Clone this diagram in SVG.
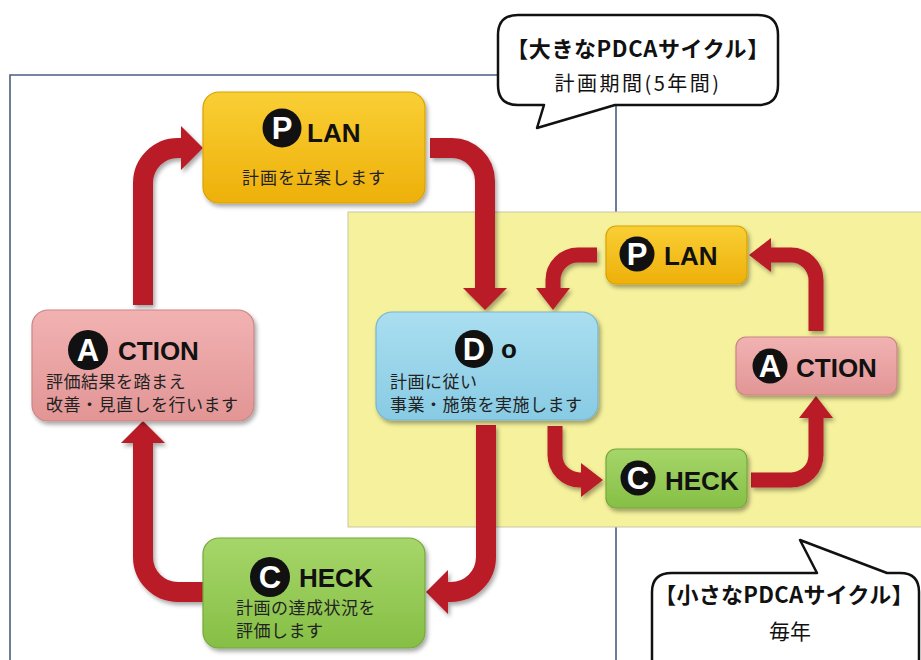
<svg xmlns="http://www.w3.org/2000/svg" width="921" height="660" viewBox="0 0 921 660">
<style>
.frame{fill:none;stroke:#4a5d80;stroke-width:1.6}
.arrowB{fill:none;stroke:#b91c27;stroke-width:20;marker-end:url(#headB)}
.arrowS{fill:none;stroke:#b91c27;stroke-width:15;marker-end:url(#headS)}
.box{stroke-width:1.2;filter:url(#sh)}
.en{font-family:"Liberation Sans",Arial,sans-serif;font-weight:bold;font-size:26px;fill:#111}
.letter{font-family:"Liberation Sans",Arial,sans-serif;font-weight:bold;font-size:31px;fill:#fff;text-anchor:middle}
.jp{font-family:"Noto Sans CJK JP",sans-serif;font-size:17px;fill:#222}
.call{fill:#fff;stroke:#111;stroke-width:2.5;stroke-linejoin:round}
.ct{font-family:"Noto Sans CJK JP",sans-serif;text-anchor:middle;fill:#111}
</style>
<defs>
<filter id="sh" filterUnits="userSpaceOnUse" x="0" y="0" width="921" height="660">
<feDropShadow dx="2" dy="3" stdDeviation="2" flood-color="#000" flood-opacity="0.35"/>
</filter>
<marker id="headB" markerUnits="userSpaceOnUse" markerWidth="22" markerHeight="44" refX="0" refY="22" orient="auto" viewBox="0 0 22 44">
<path d="M0,0 L22,22 L0,44 Z" fill="#b91c27"/>
</marker>
<marker id="headS" markerUnits="userSpaceOnUse" markerWidth="22" markerHeight="34" refX="0" refY="17" orient="auto" viewBox="0 0 22 34">
<path d="M0,0 L22,17 L0,34 Z" fill="#b91c27"/>
</marker>
<linearGradient id="gP" x1="0" y1="0" x2="0" y2="1"><stop offset="0" stop-color="#f9cf35"/><stop offset="1" stop-color="#eeb00a"/></linearGradient>
<linearGradient id="gA" x1="0" y1="0" x2="0" y2="1"><stop offset="0" stop-color="#f2b2b2"/><stop offset="1" stop-color="#e29595"/></linearGradient>
<linearGradient id="gD" x1="0" y1="0" x2="0" y2="1"><stop offset="0" stop-color="#aadef0"/><stop offset="1" stop-color="#88cbe4"/></linearGradient>
<linearGradient id="gC" x1="0" y1="0" x2="0" y2="1"><stop offset="0" stop-color="#a6d66a"/><stop offset="1" stop-color="#86bf45"/></linearGradient>
</defs>
<rect width="921" height="660" fill="#fff"/>
<g id="frame">
<path class="frame" d="M500,75 H10 V660"/>
<path class="frame" d="M616,100 V660"/>
</g>
<g id="small-cycle-area">
<rect x="348" y="212" width="600" height="315" fill="#f5f19c" stroke="#c9c7a2" stroke-width="1"/>
</g>
<g id="connectors" filter="url(#sh)">
<path class="arrowB" d="M143,305 V183 A35,35 0 0 1 178,148 H181"/>
<path class="arrowB" d="M430,148 H452 A33,33 0 0 1 485,181 V288"/>
<path class="arrowB" d="M486,425 V557 A35,35 0 0 1 451,592 H448"/>
<path class="arrowB" d="M203,592 H178 A35,35 0 0 1 143,557 V443"/>
<path class="arrowS" d="M597,255 H578 A25,25 0 0 0 553,280 V288"/>
<path class="arrowS" d="M555,426 V455 A25,25 0 0 0 580,480 H581"/>
<path class="arrowS" d="M751,480 H791 A25,25 0 0 0 816,455 V418"/>
<path class="arrowS" d="M816,331 V280 A25,25 0 0 0 791,255 H771"/>
</g>
<g id="plan">
<rect class="box" x="203" y="92" width="222" height="111" rx="16" fill="url(#gP)" stroke="#d9a300"/>
<circle cx="282" cy="128" r="19.5" fill="#111"/>
<text class="letter" x="282" y="139">P</text>
<text class="en" x="307" y="142">LAN</text>
<text class="jp" x="314" y="184" text-anchor="middle" letter-spacing="1">計画を立案します</text>
</g>
<g id="action">
<rect class="box" x="32" y="310" width="222" height="111" rx="16" fill="url(#gA)" stroke="#c98585"/>
<circle cx="88" cy="350" r="20" fill="#111"/>
<text class="letter" x="88" y="361">A</text>
<text class="en" x="118" y="360">CTION</text>
<text class="jp" x="46" y="388" letter-spacing="0.5">評価結果を踏まえ</text>
<text class="jp" x="46" y="411" letter-spacing="0.5">改善・見直しを行います</text>
</g>
<g id="do">
<rect class="box" x="376" y="312" width="222" height="108" rx="16" fill="url(#gD)" stroke="#78b6ce"/>
<circle cx="474" cy="349" r="19" fill="#111"/>
<text class="letter" x="474" y="360">D</text>
<text class="en" x="501" y="358">o</text>
<text class="jp" x="390" y="388" letter-spacing="0.5">計画に従い</text>
<text class="jp" x="390" y="411" letter-spacing="0.5">事業・施策を実施します</text>
</g>
<g id="check">
<rect class="box" x="203" y="538" width="222" height="110" rx="16" fill="url(#gC)" stroke="#75a83a"/>
<circle cx="270" cy="577" r="20" fill="#111"/>
<text class="letter" x="270" y="588">C</text>
<text class="en" x="299" y="587">HECK</text>
<text class="jp" x="236" y="614" letter-spacing="0.5">計画の達成状況を</text>
<text class="jp" x="236" y="637" letter-spacing="0.5">評価します</text>
</g>
<g id="plan-small">
<rect class="box" x="606" y="226" width="141" height="58" rx="10" fill="url(#gP)" stroke="#d9a300"/>
<circle cx="637" cy="254" r="17.5" fill="#111"/>
<text class="letter" x="637" y="265" font-size="28">P</text>
<text class="en" x="664" y="265">LAN</text>
</g>
<g id="action-small">
<rect class="box" x="736" y="337" width="161" height="58" rx="10" fill="url(#gA)" stroke="#c98585"/>
<circle cx="770" cy="366" r="17.5" fill="#111"/>
<text class="letter" x="770" y="377" font-size="28">A</text>
<text class="en" x="796" y="377">CTION</text>
</g>
<g id="check-small">
<rect class="box" x="606" y="449" width="141" height="59" rx="10" fill="url(#gC)" stroke="#75a83a"/>
<circle cx="638" cy="478" r="17.5" fill="#111"/>
<text class="letter" x="638" y="489" font-size="28">C</text>
<text class="en" x="665" y="490">HECK</text>
</g>
<g id="callout-large">
<path class="call" d="M518,15 H758 Q778,15 778,35 V85 Q778,105 758,105 H615 L537,128 L544,105 H518 Q498,105 498,85 V35 Q498,15 518,15 Z"/>
<text class="ct" x="638" y="57" font-size="22" font-weight="bold" letter-spacing="0.6">【大きなPDCAサイクル】</text>
<text class="ct" x="638" y="91" font-size="20" letter-spacing="2.5">計画期間(5年間)</text>
</g>
<g id="callout-small">
<path class="call" d="M672,573 H817 L800,540 L887,573 H900 Q919,573 919,592 V680 H652 V592 Q652,573 672,573 Z"/>
<text class="ct" x="784" y="603" font-size="22" font-weight="bold" letter-spacing="0.3">【小さなPDCAサイクル】</text>
<text class="ct" x="790" y="639" font-size="21">毎年</text>
</g>
</svg>
